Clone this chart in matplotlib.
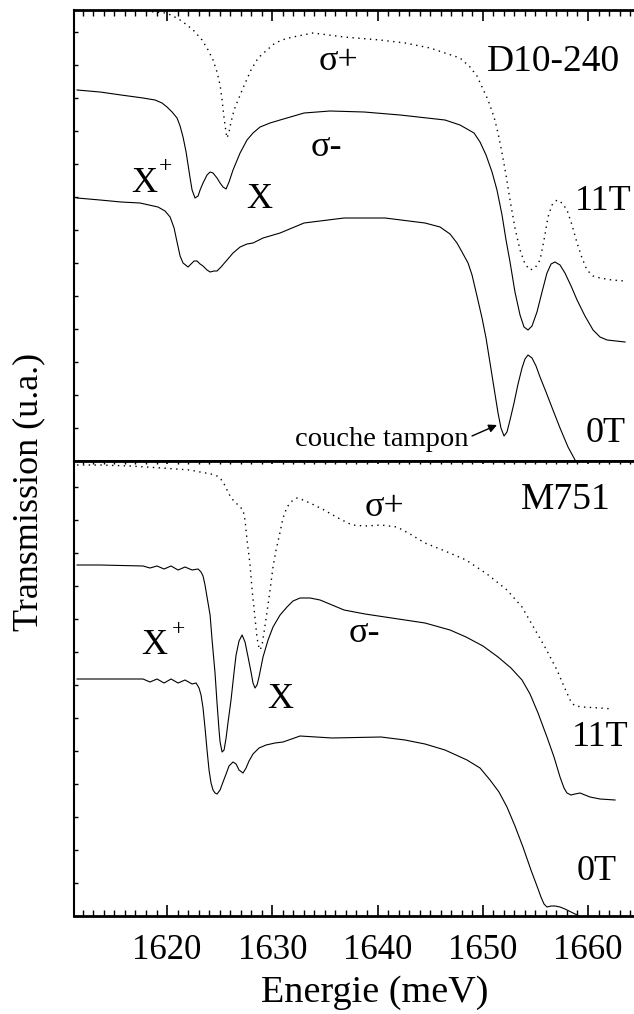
import matplotlib
matplotlib.use("Agg")
import matplotlib.pyplot as plt
from matplotlib.ticker import MultipleLocator, NullFormatter, FixedLocator

plt.rcParams['font.family'] = ['Liberation Serif', 'DejaVu Serif']

# ---------------- data (energy in meV, transmission in arbitrary units) ----------------
# Upper panel: sample D10-240
d10_sp_E = [1616.48, 1617.72, 1618.86, 1619.90, 1620.57, 1621.24, 1621.90, 1622.57, 1623.33, 1623.90,
            1624.37, 1624.75, 1625.04, 1625.23, 1625.42, 1625.61, 1625.70, 1625.89, 1626.08, 1626.37,
            1626.75, 1627.22, 1627.98, 1628.65, 1629.50, 1630.26, 1631.21, 1631.97, 1633.87, 1636.82,
            1640.24, 1642.61, 1644.99, 1646.41, 1647.84, 1648.79, 1649.45, 1649.93, 1650.50, 1651.07,
            1651.45, 1651.83, 1652.21, 1652.59, 1653.06, 1653.54, 1654.01, 1654.49, 1654.96, 1655.44,
            1655.82, 1656.20, 1656.58, 1657.05, 1657.53, 1658.00, 1658.48, 1658.96, 1659.43, 1659.90,
            1660.48, 1661.14, 1662.28, 1663.52]
d10_sp_T = [4.56, 4.50, 4.49, 4.48, 4.45, 4.41, 4.36, 4.30, 4.21, 4.11,
            4.01, 3.89, 3.76, 3.61, 3.43, 3.28, 3.23, 3.29, 3.39, 3.51,
            3.61, 3.73, 3.91, 4.03, 4.11, 4.18, 4.22, 4.24, 4.28, 4.24,
            4.21, 4.18, 4.13, 4.08, 4.03, 3.94, 3.85, 3.74, 3.61, 3.44,
            3.28, 3.08, 2.86, 2.61, 2.33, 2.11, 1.97, 1.91, 1.93, 2.01,
            2.21, 2.44, 2.56, 2.61, 2.58, 2.51, 2.36, 2.18, 2.03, 1.91,
            1.85, 1.83, 1.81, 1.80]

d10_sm_E = [1611.45, 1613.63, 1615.63, 1617.72, 1618.86, 1619.52, 1620.00, 1620.48, 1620.95, 1621.24,
            1621.52, 1621.81, 1622.00, 1622.19, 1622.38, 1622.66, 1622.95, 1623.14, 1623.42, 1623.80,
            1624.09, 1624.37, 1624.75, 1625.04, 1625.32, 1625.61, 1625.89, 1626.27, 1626.94, 1627.60,
            1628.17, 1628.84, 1629.79, 1630.74, 1633.02, 1635.49, 1638.72, 1642.14, 1646.41, 1647.84,
            1649.17, 1649.74, 1650.31, 1650.88, 1651.35, 1651.83, 1652.21, 1652.59, 1653.06, 1653.54,
            1653.92, 1654.30, 1654.68, 1655.15, 1655.63, 1656.10, 1656.49, 1656.86, 1657.34, 1657.81,
            1658.39, 1658.96, 1659.71, 1660.48, 1661.14, 1661.81, 1663.52]
d10_sm_T = [3.71, 3.69, 3.66, 3.63, 3.61, 3.58, 3.54, 3.49, 3.43, 3.35,
            3.24, 3.09, 2.96, 2.83, 2.71, 2.63, 2.65, 2.71, 2.78, 2.86,
            2.89, 2.88, 2.83, 2.78, 2.74, 2.72, 2.79, 2.91, 3.08, 3.21,
            3.28, 3.34, 3.38, 3.41, 3.48, 3.50, 3.49, 3.46, 3.41, 3.36,
            3.28, 3.19, 3.06, 2.89, 2.71, 2.46, 2.21, 1.99, 1.69, 1.46,
            1.34, 1.31, 1.35, 1.49, 1.69, 1.88, 1.97, 1.99, 1.96, 1.88,
            1.75, 1.61, 1.45, 1.31, 1.24, 1.21, 1.19]

d10_0T_E = [1611.45, 1613.63, 1615.63, 1617.43, 1619.14, 1619.81, 1620.29, 1620.67, 1620.95, 1621.24,
            1621.52, 1622.00, 1622.28, 1622.57, 1622.85, 1623.14, 1623.42, 1623.80, 1624.09, 1624.47,
            1624.75, 1625.13, 1625.70, 1626.27, 1626.94, 1627.60, 1628.17, 1629.12, 1630.74, 1633.02,
            1636.82, 1640.71, 1644.51, 1645.94, 1646.89, 1647.55, 1648.03, 1648.60, 1648.98, 1649.45,
            1649.93, 1650.31, 1650.69, 1651.07, 1651.45, 1651.73, 1652.02, 1652.30, 1652.59, 1652.97,
            1653.35, 1653.73, 1654.01, 1654.30, 1654.68, 1655.06, 1655.44, 1656.01, 1656.67, 1657.34,
            1658.10, 1658.77, 1659.43, 1660.19]
d10_0T_T = [2.63, 2.61, 2.59, 2.58, 2.54, 2.50, 2.44, 2.33, 2.19, 2.05,
            1.98, 1.94, 1.97, 2.00, 2.00, 1.97, 1.95, 1.91, 1.89, 1.90,
            1.90, 1.94, 2.01, 2.08, 2.14, 2.17, 2.18, 2.23, 2.28, 2.38,
            2.43, 2.43, 2.38, 2.34, 2.27, 2.18, 2.09, 1.98, 1.86, 1.65,
            1.43, 1.23, 0.98, 0.73, 0.48, 0.33, 0.25, 0.29, 0.41, 0.58,
            0.77, 0.93, 1.02, 1.06, 1.03, 0.95, 0.84, 0.69, 0.51, 0.33,
            0.14, 0.01, -0.11, -0.24]

# Lower panel: sample M751
m751_sp_E = [1611.45, 1613.63, 1616.48, 1619.52, 1622.19, 1623.14, 1624.18, 1624.75, 1625.04, 1625.42,
             1625.70, 1625.99, 1626.27, 1626.75, 1627.22, 1627.41, 1627.60, 1627.89, 1628.08, 1628.36,
             1628.55, 1628.74, 1628.84, 1629.03, 1629.22, 1629.50, 1629.79, 1630.07, 1630.36, 1630.64,
             1631.02, 1631.40, 1631.88, 1632.35, 1632.92, 1633.78, 1634.92, 1636.25, 1637.58, 1638.81,
             1640.33, 1641.85, 1643.09, 1644.51, 1646.41, 1648.41, 1650.40, 1652.30, 1653.73, 1654.87,
             1656.01, 1657.05, 1657.62, 1658.00, 1658.39, 1658.77, 1659.52, 1661.14, 1662.38]
m751_sp_T = [4.51, 4.51, 4.50, 4.48, 4.46, 4.44, 4.42, 4.40, 4.38, 4.32,
             4.26, 4.20, 4.16, 4.11, 4.06, 3.96, 3.76, 3.51, 3.26, 2.98,
             2.78, 2.68, 2.66, 2.71, 2.84, 3.04, 3.26, 3.49, 3.66, 3.79,
             3.98, 4.09, 4.15, 4.18, 4.16, 4.12, 4.06, 3.98, 3.91, 3.90,
             3.91, 3.89, 3.82, 3.73, 3.65, 3.56, 3.42, 3.26, 3.09, 2.88,
             2.67, 2.46, 2.32, 2.23, 2.14, 2.10, 2.09, 2.08, 2.07]

m751_sm_E = [1611.45, 1613.63, 1617.72, 1618.38, 1619.05, 1619.72, 1620.38, 1621.05, 1621.71, 1622.38,
             1622.95, 1623.23, 1623.42, 1623.61, 1623.80, 1624.09, 1624.28, 1624.56, 1624.75, 1624.94,
             1625.04, 1625.23, 1625.42, 1625.61, 1625.80, 1626.08, 1626.37, 1626.56, 1626.84, 1627.13,
             1627.41, 1627.70, 1627.98, 1628.17, 1628.36, 1628.55, 1628.74, 1629.12, 1629.60, 1630.07,
             1630.74, 1631.40, 1631.97, 1632.64, 1633.59, 1634.54, 1636.82, 1638.81, 1640.71, 1644.51,
             1646.89, 1648.41, 1650.02, 1651.45, 1652.68, 1653.73, 1654.49, 1655.25, 1656.10, 1656.77,
             1657.34, 1657.72, 1658.00, 1658.39, 1658.77, 1659.24, 1659.71, 1660.19, 1661.14, 1662.57]
m751_sm_T = [3.51, 3.51, 3.50, 3.48, 3.50, 3.47, 3.50, 3.46, 3.49, 3.46,
             3.47, 3.44, 3.40, 3.31, 3.19, 3.01, 2.76, 2.43, 2.13, 1.86,
             1.74, 1.64, 1.66, 1.78, 1.94, 2.16, 2.44, 2.61, 2.75, 2.81,
             2.74, 2.59, 2.44, 2.33, 2.28, 2.31, 2.39, 2.59, 2.76, 2.89,
             3.01, 3.09, 3.15, 3.18, 3.18, 3.16, 3.06, 3.02, 2.99, 2.93,
             2.86, 2.79, 2.70, 2.59, 2.48, 2.36, 2.22, 2.03, 1.79, 1.59,
             1.39, 1.28, 1.23, 1.21, 1.22, 1.23, 1.21, 1.19, 1.17, 1.16]

m751_0T_E = [1611.45, 1613.63, 1617.72, 1618.38, 1619.05, 1619.72, 1620.38, 1621.05, 1621.71, 1622.38,
             1622.76, 1623.04, 1623.23, 1623.42, 1623.61, 1623.80, 1623.99, 1624.18, 1624.37, 1624.56,
             1624.75, 1625.04, 1625.32, 1625.61, 1625.89, 1626.27, 1626.56, 1626.84, 1627.22, 1627.51,
             1627.79, 1628.17, 1628.74, 1629.41, 1630.26, 1631.02, 1632.64, 1635.68, 1640.33, 1642.61,
             1644.51, 1646.41, 1648.50, 1649.74, 1650.69, 1651.54, 1652.30, 1653.06, 1653.82, 1654.58,
             1655.15, 1655.53, 1655.82, 1656.10, 1656.49, 1656.86, 1657.34, 1657.81, 1658.39, 1658.96,
             1659.71]
m751_0T_T = [2.37, 2.37, 2.37, 2.34, 2.37, 2.33, 2.37, 2.33, 2.36, 2.32,
             2.33, 2.28, 2.21, 2.08, 1.88, 1.66, 1.46, 1.33, 1.26, 1.23,
             1.22, 1.26, 1.34, 1.42, 1.50, 1.54, 1.52, 1.46, 1.43, 1.48,
             1.55, 1.62, 1.68, 1.71, 1.73, 1.74, 1.80, 1.78, 1.79, 1.76,
             1.72, 1.66, 1.56, 1.48, 1.36, 1.24, 1.09, 0.90, 0.69, 0.46,
             0.30, 0.19, 0.12, 0.09, 0.10, 0.10, 0.09, 0.07, 0.04, 0.01,
             -0.04]

xmajor_ticks = [1620, 1630, 1640, 1650, 1660]
xmajor_labels = ['1620', '1630', '1640', '1650', '1660']

# ---------------- figure ----------------
W, H = 634, 1014
fig = plt.figure(figsize=(W / 100, H / 100), dpi=100)

left = 74 / W
width = (640 - 74) / W
ax1 = fig.add_axes([left, 1 - 461 / H, width, 451 / H])
ax2 = fig.add_axes([left, 1 - 916 / H, width, 455 / H])

xlim = (1611.16, 1664.94)
lw = 0.8
dot = (0, (1.0, 3.2))

ax1.plot(d10_sp_E, d10_sp_T, color='black', lw=1.0, ls=dot)
ax1.plot(d10_sm_E, d10_sm_T, color='black', lw=lw)
ax1.plot(d10_0T_E, d10_0T_T, color='black', lw=lw)
ax1.set_ylim(0, 4.51)

ax2.plot(m751_sp_E, m751_sp_T, color='black', lw=1.0, ls=dot)
ax2.plot(m751_sm_E, m751_sm_T, color='black', lw=lw)
ax2.plot(m751_0T_E, m751_0T_T, color='black', lw=lw)
ax2.set_ylim(0, 4.55)

for ax in (ax1, ax2):
    ax.set_xlim(*xlim)
    ax.xaxis.set_major_locator(FixedLocator(xmajor_ticks))
    ax.xaxis.set_minor_locator(MultipleLocator(1))
    ax.yaxis.set_major_locator(MultipleLocator(0.33))
    ax.yaxis.set_major_formatter(NullFormatter())
    ax.tick_params(axis='y', which='major', direction='in', length=3, width=1.0, left=True, right=False)
    ax.tick_params(axis='y', which='minor', left=False, right=False)
    for s in ax.spines.values():
        s.set_linewidth(1.5)
    ax.spines['right'].set_visible(False)

ax1.tick_params(axis='x', which='major', direction='in', length=8, width=1.2,
                top=True, bottom=False, labelbottom=False, labeltop=False)
ax1.tick_params(axis='x', which='minor', direction='in', length=4, width=1.0,
                top=True, bottom=False)
ax1.spines['bottom'].set_linewidth(2.0)
ax1.spines['top'].set_linewidth(2.0)

ax2.tick_params(axis='x', which='major', direction='in', length=8, width=1.2,
                top=True, bottom=True, labelbottom=True, labelsize=25, pad=13)
ax2.tick_params(axis='x', which='minor', direction='in', length=4, width=1.0,
                top=True, bottom=True)
ax2.set_xticklabels(xmajor_labels)
ax2.spines['top'].set_linewidth(2.0)
ax2.spines['bottom'].set_linewidth(2.0)
for t in ax2.xaxis.get_major_ticks() + ax2.xaxis.get_minor_ticks():
    t.tick2line.set_markersize(2)

fs = 26
# upper labels
ax1.text(1636.25, 3.99, 'σ+', fontsize=fs, ha='center', va='center')
ax1.text(1656.67, 3.99, 'D10-240', fontsize=27, ha='center', va='center')
ax1.text(1635.11, 3.13, 'σ-', fontsize=fs, ha='center', va='center')
ax1.text(1617.81, 2.78, 'X', fontsize=fs, ha='center', va='center')
ax1.text(1619.90, 2.94, '+', fontsize=17, ha='center', va='center')
ax1.text(1628.74, 2.61, 'X', fontsize=fs, ha='center', va='center')
ax1.text(1661.42, 2.59, '11T', fontsize=fs, ha='center', va='center')
ax1.text(1661.70, 0.28, '0T', fontsize=fs, ha='center', va='center')
ax1.text(1640.40, 0.21, 'couche tampon', fontsize=20.5, ha='center', va='center')
ax1.annotate('', xy=(1651.35, 0.36), xytext=(1648.98, 0.25),
             arrowprops=dict(arrowstyle='-|>', color='black', lw=1.0, mutation_scale=12,
                             shrinkA=0, shrinkB=0))

# lower labels
ax2.text(1657.91, 4.16, 'M751', fontsize=27, ha='center', va='center')
ax2.text(1640.71, 4.08, 'σ+', fontsize=fs, ha='center', va='center')
ax2.text(1638.72, 2.83, 'σ-', fontsize=fs, ha='center', va='center')
ax2.text(1618.76, 2.70, 'X', fontsize=fs, ha='center', va='center')
ax2.text(1621.05, 2.86, '+', fontsize=17, ha='center', va='center')
ax2.text(1630.74, 2.16, 'X', fontsize=fs, ha='center', va='center')
ax2.text(1661.14, 1.79, '11T', fontsize=fs, ha='center', va='center')
ax2.text(1660.86, 0.44, '0T', fontsize=fs, ha='center', va='center')

fig.text(29 / W, 1 - 492 / H, 'Transmission (u.a.)', rotation=90, fontsize=26,
         ha='center', va='center')
fig.text(375 / W, 1 - 993 / H, 'Energie (meV)', fontsize=27.5, ha='center', va='center')

fig.savefig('out.png', dpi=100)
